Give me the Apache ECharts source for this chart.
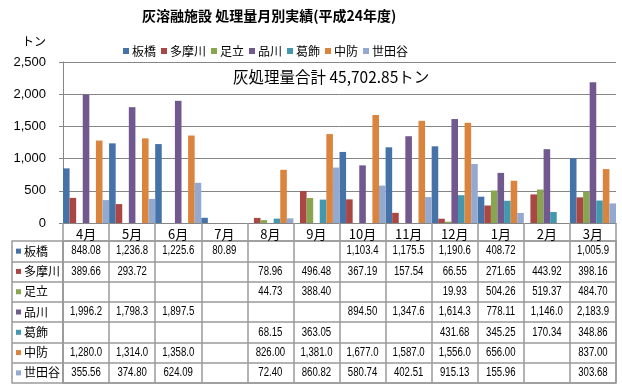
<!DOCTYPE html>
<html><head><meta charset="utf-8">
<script src="https://cdn.jsdelivr.net/npm/echarts@6/dist/echarts.min.js"></script>
<style>html,body{margin:0;padding:0;background:#fff}#c{width:622px;height:389px}</style>
</head><body><div id="c"></div>
<script>
const months = ['4月','5月','6月','7月','8月','9月','10月','11月','12月','1月','2月','3月'];
const seriesNames = ['板橋','多摩川','足立','品川','葛飾','中防','世田谷'];
const colors = ['#4572A7','#AA4643','#89A54E','#71588F','#4198AF','#DB843D','#93A9CF'];
const itabashi = [848.08,1236.8,1225.6,80.89,null,null,1103.4,1175.5,1190.6,408.72,null,1005.9];
const tamagawa = [389.66,293.72,null,null,78.96,496.48,367.19,157.54,66.55,271.65,443.92,398.16];
const adachi   = [null,null,null,null,44.73,388.40,null,null,19.93,504.26,519.37,484.70];
const shinagawa= [1996.2,1798.3,1897.5,null,null,null,894.50,1347.6,1614.3,778.11,1146.0,2183.9];
const katsushika=[null,null,null,null,68.15,363.05,null,null,431.68,345.25,170.34,348.86];
const chubo    = [1280.0,1314.0,1358.0,null,826.00,1381.0,1677.0,1587.0,1556.0,656.00,null,837.00];
const setagaya = [355.56,374.80,624.09,null,72.40,860.82,580.74,402.51,915.13,155.96,null,303.68];
const yTicks = [0,500,1000,1500,2000,2500];
const titleText = '灰溶融施設 処理量月別実績(平成24年度)';
const unitText = 'トン';
const totalText = '灰処理量合計 45,702.85トン';

const allSeries = [itabashi,tamagawa,adachi,shinagawa,katsushika,chubo,setagaya];
const fmt = v => v >= 1000 ? v.toLocaleString('en-US',{minimumFractionDigits:1,maximumFractionDigits:1}) : v.toFixed(2);
const cells = [];
allSeries.forEach((arr,s)=>arr.forEach((v,m)=>{ if(v!=null) cells.push([m,s,fmt(v)]); }));

const gridLine = '#9a9a9a';
const jp = "'Noto Sans CJK JP', sans-serif";
const num = "'Liberation Sans', Arial, sans-serif";

const rich = { t:{fontSize:12, fontFamily:jp, color:'#000', padding:[0,0,0,3]} };
colors.forEach((c,i)=>{ rich['i'+i] = {width:5,height:5,backgroundColor:c}; });

const chart = echarts.init(document.getElementById('c'));
chart.setOption({
  animation:false,
  title:{text:titleText,left:137,top:4,textStyle:{fontSize:14,fontWeight:'bold',fontFamily:jp,color:'#000'}},
  legend:{data:seriesNames,left:118,top:40,icon:'rect',itemWidth:6,itemHeight:6,itemGap:5,
    textStyle:{fontSize:12,fontFamily:jp,color:'#000',padding:[0,0,0,-2]}},
  graphic:[
    {type:'text',left:22,top:35,style:{text:unitText,fontSize:12,fontFamily:jp,fill:'#000'}},
    {type:'text',left:233,top:69,style:{text:totalText,fontSize:15.5,fontFamily:jp,fill:'#000'}}
  ],
  grid:[
    {left:63,right:6,top:62,bottom:166},
    {left:63,right:6,top:241,height:142,show:true,borderColor:gridLine,borderWidth:1.5,backgroundColor:'transparent'}
  ],
  xAxis:[
    {type:'category',gridIndex:0,data:months,
      axisLine:{lineStyle:{color:'#868686',width:1}},
      axisTick:{show:true,interval:0,length:160,lineStyle:{color:gridLine,width:1.5}},
      axisLabel:{interval:0,margin:5,fontSize:13,fontFamily:jp,color:'#000'}},
    {type:'category',gridIndex:1,data:months,show:false}
  ],
  yAxis:[
    {type:'value',gridIndex:0,min:0,max:2500,interval:500,
      axisLine:{show:true,lineStyle:{color:'#868686'}},
      axisTick:{show:true,length:4,lineStyle:{color:'#868686'}},
      splitLine:{lineStyle:{color:'#868686'}},
      axisLabel:{margin:17,fontSize:13,fontFamily:"'Liberation Sans', Arial, sans-serif",color:'#000',
        formatter:v=>v.toLocaleString('en-US')}},
    {type:'category',gridIndex:1,data:seriesNames,inverse:true,
      axisLine:{show:true,lineStyle:{color:gridLine,width:1.5}},
      axisTick:{show:true,interval:0,length:51,lineStyle:{color:gridLine,width:1.5}},
      splitLine:{show:true,interval:0,lineStyle:{color:gridLine,width:1.5}},
      axisLabel:{interval:0,align:'left',margin:47,
        formatter:(v,i)=>'{i'+i+'|}{t|'+v+'}',rich:rich}},
    {type:'category',gridIndex:1,data:seriesNames,position:'left',offset:51,
      axisLine:{show:true,lineStyle:{color:gridLine,width:1.5}},
      axisTick:{show:false},axisLabel:{show:false},splitLine:{show:false}}
  ],
  series: allSeries.map((arr,i)=>({
    name:seriesNames[i],type:'bar',xAxisIndex:0,yAxisIndex:0,data:arr,
    barGap:'0%',barCategoryGap:'0%',itemStyle:{color:colors[i]}
  })).concat([{
    type:'custom',xAxisIndex:1,yAxisIndex:1,data:cells,encode:{x:0,y:1},
    renderItem:(params,api)=>{
      const c = cells[params.dataIndex];
      const p = api.coord([c[0],c[1]]);
      return {type:'text',x:p[0],y:p[1],scaleX:0.8,style:{text:c[2],fontSize:12,fontFamily:num,fill:'#000',align:'center',verticalAlign:'middle'}};
    }
  }])
});
</script></body></html>
